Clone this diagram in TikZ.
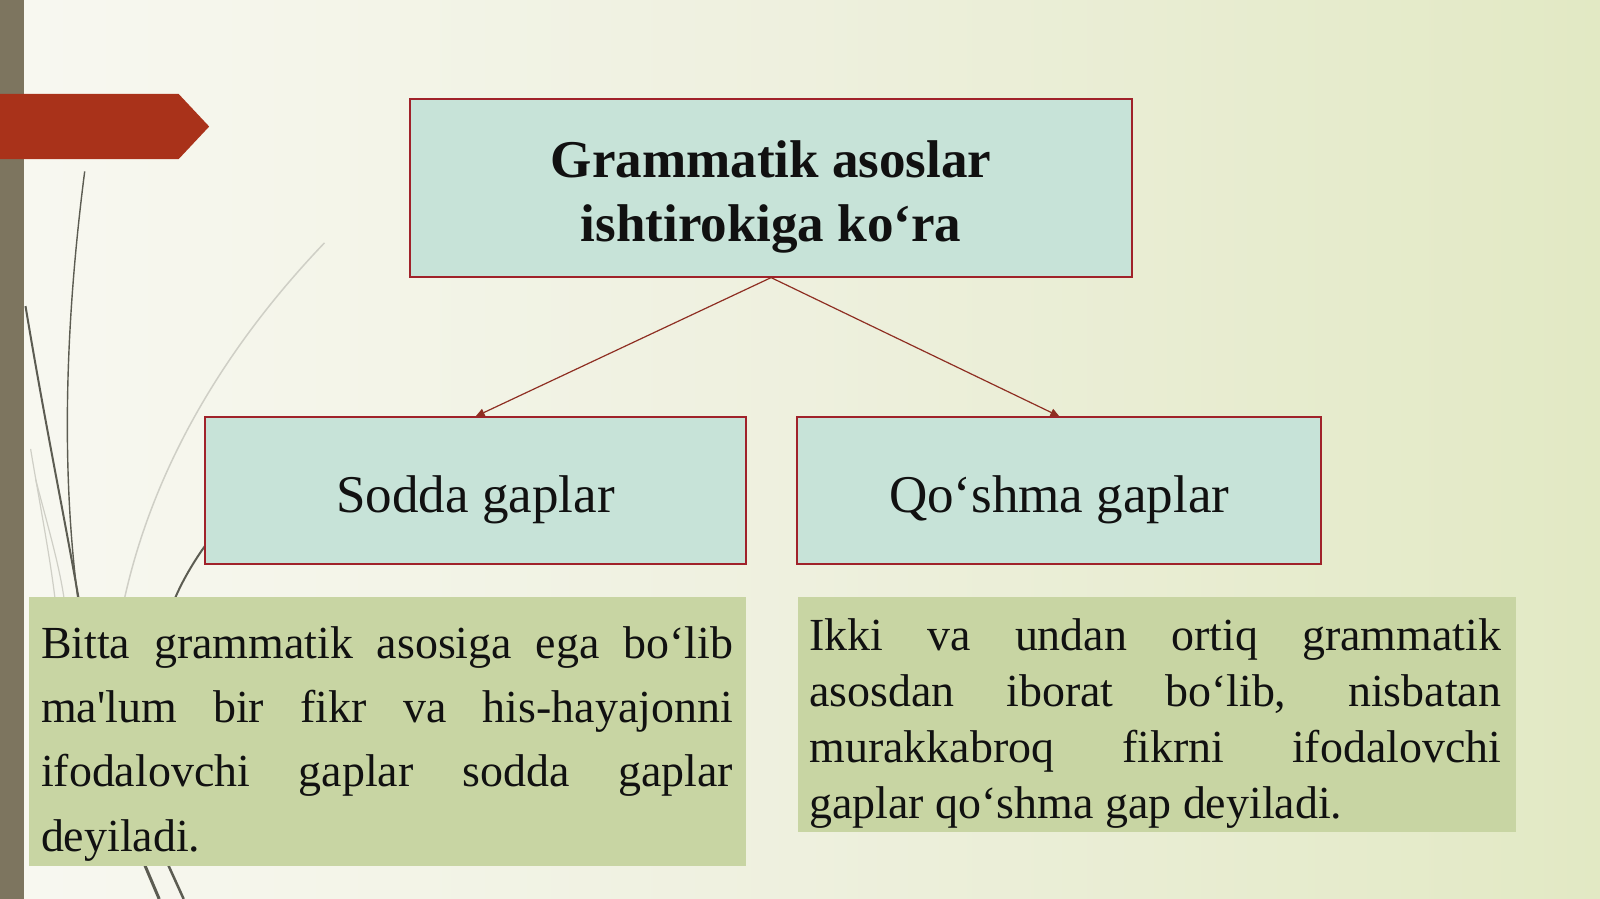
\documentclass[tikz,border=0pt]{standalone}
\usepackage{fontspec}
\setmainfont{Liberation Serif}[Ligatures=TeXOff]
\usetikzlibrary{arrows.meta}
\definecolor{bgL}{HTML}{F8F8F1}
\definecolor{bgM}{HTML}{EEF0DE}
\definecolor{bgR}{HTML}{E2E9C4}
\definecolor{barC}{HTML}{7D755F}
\definecolor{redC}{HTML}{A9321A}
\definecolor{boxF}{HTML}{C7E3D8}
\definecolor{boxD}{HTML}{A0222A}
\definecolor{greenF}{HTML}{C8D5A3}
\definecolor{connC}{HTML}{8E2E22}
\definecolor{decoD}{HTML}{5C5C52}
\definecolor{decoL}{HTML}{CFCFC6}
\definecolor{txt}{HTML}{111111}
\tikzset{
  hbox/.style={draw=boxD, line width=2pt, fill=boxF, inner sep=0pt},
  gbox/.style={fill=greenF, inner sep=0pt},
  htext/.style={inner sep=0pt, text=txt, font=\fontsize{52}{62}\selectfont},
  btext/.style={inner sep=0pt, text=txt, anchor=base west},
  conn/.style={draw=connC, line width=1.2pt, -{Triangle[length=9pt,width=8pt]}},
  decodark/.style={draw=decoD, line width=1.8pt},
  decolight/.style={draw=decoL, line width=1.5pt}
}
\begin{document}
\begin{tikzpicture}[x=1pt,y=-1pt,scale=1.0204,every node/.style={transform shape}]
\useasboundingbox (0,0) rectangle (1568,881);
% background
\fill[left color=bgL, right color=bgR, middle color=bgM] (0,0) rectangle (1568,881);
% decorative curves
\draw[decolight] (318,238) .. controls (230,330) and (150,450) .. (120,596);
\draw[decolight, line width=1pt] (312,413) .. controls (300,420) and (295,430) .. (290,440);
\draw[decolight, line width=1.2pt] (30,440) .. controls (40,500) and (50,550) .. (55,596);
\draw[decolight, line width=1.2pt] (35,470) .. controls (48,520) and (60,560) .. (64,596);
\draw[decodark, line width=1.4pt] (83,168) .. controls (66,300) and (58,450) .. (77,592);
\draw[decodark, line width=2pt] (25,300) .. controls (45,420) and (62,500) .. (78,592);
\draw[decodark, line width=2pt] (203,532) .. controls (190,550) and (178,570) .. (170,590);
\draw[decodark, line width=3pt] (142,848) -- (156,881);
\draw[decodark, line width=2.5pt] (165,848) -- (180,881);
% left bar and red tag
\fill[barC] (0,0) rectangle (24,881);
\fill[redC] (0,92) -- (175,92) -- (205,124) -- (175,156) -- (0,156) -- cycle;
% hierarchy boxes
\node[hbox, minimum width=707pt, minimum height=174pt] (top) at (755.5,184) {};
\node[htext, align=center, font=\fontsize{52}{62}\selectfont\bfseries, yshift=-9pt] (toptext) at (top.center)
  {Grammatik asoslar\\ishtirokiga ko‘ra};
\node[hbox, minimum width=530pt, minimum height=144pt] (sodda) at (466,481) {};
\node[htext, anchor=base] (soddatext) at (466,502) {Sodda gaplar};
\node[hbox, minimum width=514pt, minimum height=144pt] (qoshma) at (1038,481) {};
\node[htext, anchor=base] (qoshmatext) at (1038,502) {Qo‘shma gaplar};
\draw[conn] (top.south) -- (sodda.north);
\draw[conn] (top.south) -- (qoshma.north);
% definition boxes
\node[gbox, minimum width=703pt, minimum height=263pt, anchor=north west] (lbox) at (28,585) {};
\node[gbox, minimum width=703pt, minimum height=230pt, anchor=north west] (rbox) at (782,585) {};
\node[btext] (ltext) at (40,645) {\begin{minipage}[t]{678pt}\fontsize{45}{63}\selectfont\parindent=0pt
\makebox[678pt][s]{Bitta grammatik asosiga ega bo‘lib}\\
\makebox[678pt][s]{ma'lum bir fikr va his-hayajonni}\\
\makebox[678pt][s]{ifodalovchi gaplar sodda gaplar}\\
deyiladi.
\end{minipage}};
\node[btext] (rtext) at (793,637) {\begin{minipage}[t]{678pt}\fontsize{45}{55}\selectfont\parindent=0pt
\makebox[678pt][s]{Ikki va undan ortiq grammatik}\\
\makebox[678pt][s]{asosdan iborat bo‘lib, nisbatan}\\
\makebox[678pt][s]{murakkabroq fikrni ifodalovchi}\\
gaplar qo‘shma gap deyiladi.
\end{minipage}};
\end{tikzpicture}
\end{document}
